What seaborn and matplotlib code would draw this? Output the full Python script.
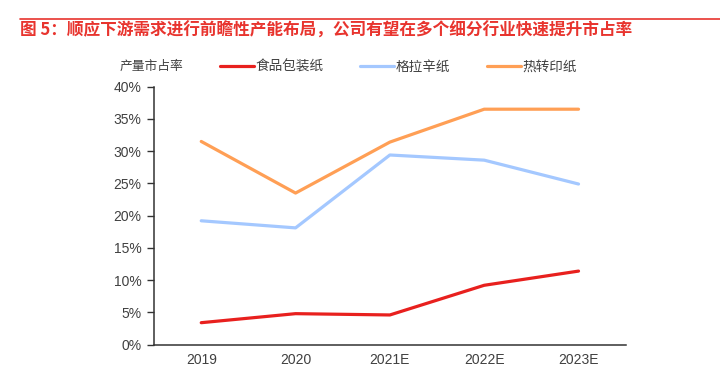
import pandas as pd
import matplotlib.pyplot as plt
import seaborn as sns
from matplotlib.lines import Line2D


TITLE = "图 5：顺应下游需求进行前瞻性产能布局，公司有望在多个细分行业快速提升市占率"
YLABEL = "产量市占率"

years = ["2019", "2020", "2021E", "2022E", "2023E"]
food_pack = [3.4, 4.8, 4.6, 9.2, 11.4]      # 食品包装纸
glassine = [19.2, 18.1, 29.4, 28.6, 24.9]    # 格拉辛纸
thermal = [31.5, 23.5, 31.4, 36.5, 36.5]     # 热转印纸

series_names = ["食品包装纸", "格拉辛纸", "热转印纸"]
colors = ["#E8201E", "#A4C8FF", "#FF9F55"]
yticks = [0, 5, 10, 15, 20, 25, 30, 35, 40]


# --------- long-form table --------- #
rows = []
for name, vals in zip(series_names, [food_pack, glassine, thermal]):
    for yr, v in zip(years, vals):
        rows.append({"year": yr, "share": v, "kind": name})
df = pd.DataFrame(rows)

sns.set_style("white")
plt.rcParams["font.family"] = ["Noto Sans CJK SC", "DejaVu Sans"]

fig = plt.figure(figsize=(7.2, 3.75), dpi=100)
ax = fig.add_axes([0.214, 0.081, 0.655, 0.688])

sns.lineplot(data=df, x="year", y="share", hue="kind", hue_order=series_names,
             palette=colors, sort=False, linewidth=2.3, ax=ax, legend=False)

num_font = ["Liberation Sans", "DejaVu Sans"]
ax.set_xlim(-0.5, 4.5)
ax.set_ylim(0, 40)
ax.set_yticks(yticks)
ax.set_yticklabels([f"{t}%" for t in yticks], family=num_font)
ax.set_xticks(range(len(years)))
ax.set_xticklabels(years, family=num_font)
ax.set_xticks([i - 0.5 for i in range(len(years) + 1)], minor=True)
ax.tick_params(axis="x", which="major", length=0, pad=6, labelsize=10, colors="#404040")
ax.tick_params(axis="x", which="minor", length=4, width=1, color="#333333", direction="out")
ax.tick_params(axis="y", length=5, width=1, color="#333333", labelsize=10,
               labelcolor="#404040", direction="out", left=True, pad=4)
ax.set_xlabel("")
ax.set_ylabel("")
for side in ["top", "right"]:
    ax.spines[side].set_visible(False)
for side in ["left", "bottom"]:
    ax.spines[side].set_color("#333333")
    ax.spines[side].set_linewidth(1.1)

# --------- legend row --------- #
handles = [Line2D([], [], color=c, linewidth=2.3) for c in colors]
fig.legend(handles, series_names, loc="center left", bbox_to_anchor=(0.288, 0.822),
           ncol=3, frameon=False, fontsize=9.8, handlelength=2.5, handletextpad=0.1,
           columnspacing=2.7, labelcolor="#404040")
fig.text(0.166, 0.822, YLABEL, fontsize=9.2, color="#404040", va="center")

# --------- title + top rule --------- #
fig.add_artist(Line2D([0.028, 1.0], [0.950, 0.950], color="#E8342E", linewidth=1.2))
fig.text(0.028, 0.918, TITLE, fontsize=12, fontweight="bold", color="#E8342E", va="center")

fig.savefig("out.png", dpi=100)
